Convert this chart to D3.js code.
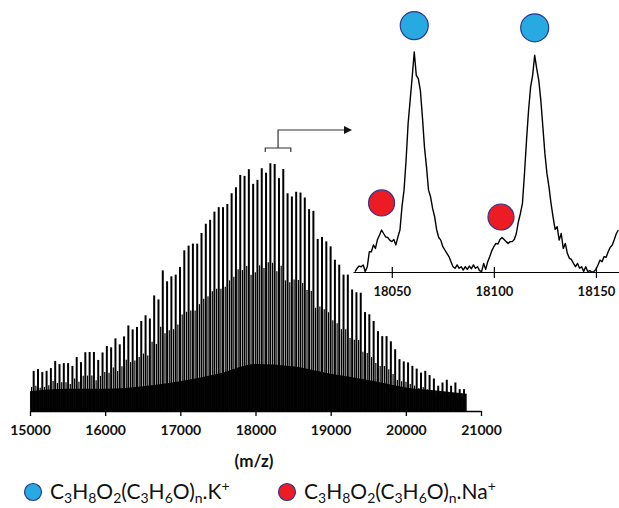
<!DOCTYPE html>
<html><head><meta charset="utf-8">
<script src="https://cdn.jsdelivr.net/npm/d3@7"></script>
<style>body{margin:0;background:#fff}svg{display:block}</style>
</head><body><svg id="c" width="619" height="508"></svg>
<script>
// ---- main spectrum: K+ series peak heights (relative %)
const peakStartMz = 15049;
const peakSpacing = 57.25;
const kPeakHeights = [
  16.2,16.9,15.7,16.2,17.3,20.2,18.9,19.3,19.3,18.2,
  21.8,19.7,23.7,23.8,23.8,20.6,23.6,26.2,25.7,29.3,
  26.9,30.1,34.5,32.9,33.9,36.3,38.6,37.3,46.6,45.0,
  56.7,52.3,54.3,55.0,58.1,64.8,66.7,67.5,67.5,71.8,
  75.5,77.1,80.4,82.2,82.2,83.5,87.8,90.2,95.2,94.8,
  97.5,91.6,93.2,97.9,96.1,99.9,99.6,93.9,97.6,87.8,
  86.5,88.4,88.1,86.1,81.4,80.7,69.4,70.2,68.4,66.4,
  61.0,59.0,55.0,55.0,49.0,47.9,47.7,39.9,39.0,36.3,
  32.2,30.2,30.2,28.1,24.9,20.9,20.0,19.6,18.2,17.1,
  15.5,16.2,14.5,13.1,10.2,11.5,12.6,10.2,11.5,8.8,8.8
];
// noise floor top of the spectrum (relative %)
const floorMz    = [15000,15500,16000,16500,17000,17500,18000,18500,19000,19500,20000,20500,20810];
const floorLevel = [8,9,9,10,12,15,19,18,15,12.5,9.5,8,7];
const mainTicks = [15000,16000,17000,18000,19000,20000,21000];

// ---- inset: zoomed trace, 1 Da steps from insetStartMz (relative %)
const insetStartMz = 18032;
const insetIntensity = [
  0.2,1.7,2.7,2.4,3.2,0.2,2.4,9.2,9.2,12.3,
  10.7,14.8,16.8,19.1,17.5,16.0,15.7,14.5,13.8,14.8,
  12.3,16.0,19.1,29.7,37.2,50.8,67.5,78.1,88.7,100,
  89.4,87.9,82.6,70.5,56.9,47.8,37.2,34.2,28.9,25.1,
  19.1,15.7,14.5,11.5,10.0,8.5,7.0,4.7,2.4,1.7,
  3.2,1.7,2.4,0.9,2.4,1.2,2.7,1.5,3.2,1.7,
  2.4,0.6,0.2,3.9,1.2,4.7,7.0,9.7,11.5,13.0,
  12.7,14.8,15.7,14.8,13.8,13.0,13.8,13.8,14.8,17.5,
  22.8,26.6,31.2,44.8,59.9,73.5,84.1,89.4,98.5,92.4,
  87.1,78.1,66.0,53.9,44.8,38.7,31.2,25.1,19.4,20.6,
  14.5,17.5,10.7,13.0,8.5,6.2,5.7,3.9,2.4,3.9,
  1.7,2.4,0.2,2.4,0.2,0.6,0,0.2,1.2,3.2,
  5.4,4.7,7.0,6.7,9.2,11.2,12.3,14.8,17.5,19.1
];
const insetDomain = [18031, 18161.3];
const insetTicks = [18050,18100,18150];
const markerMz     = [18061, 18120, 18045, 18103.5];
const markerLevel  = [112, 111, 31.4, 25];
const markerSeries = ["K","K","Na","Na"];
const bracketMz = [18130, 18470];

const legendItems = [
  {series:"K",  parts:[["C"],["3","sub"],["H"],["8","sub"],["O"],["2","sub"],["(C"],["3","sub"],["H"],["6","sub"],["O)"],["n","sub"],[".K"],["+","sup"]]},
  {series:"Na", parts:[["C"],["3","sub"],["H"],["8","sub"],["O"],["2","sub"],["(C"],["3","sub"],["H"],["6","sub"],["O)"],["n","sub"],[".Na"],["+","sup"]]}
];
const seriesFill = {K:"#27aae1", Na:"#ed1c24"};
const markerStroke = "#2b3990";

const svg = d3.select("#c");
const FONT = "Lato, 'Open Sans', sans-serif";

// ---------- main chart
const x = d3.scaleLinear().domain([15000,21000]).range([30,481]);
const y = d3.scaleLinear().domain([0,100]).range([411,163]);

const peaks = kPeakHeights.map((h,i)=>({mz: peakStartMz + i*peakSpacing, h}));

// noise floor band
svg.append("path")
  .datum(floorMz.map((m,i)=>[m,floorLevel[i]]))
  .attr("d", d3.area().x(d=>x(d[0])).y0(y(0)).y1(d=>y(d[1])).curve(d3.curveMonotoneX))
  .attr("fill","#0a0a0a");

// shoulder (secondary) lines
svg.append("g").selectAll("line").data(peaks).join("line")
  .attr("x1", d=>x(d.mz)-2.1).attr("x2", d=>x(d.mz)-2.1)
  .attr("y1", y(0)).attr("y2", d=>y(d.h*0.6))
  .attr("stroke","#000").attr("stroke-width",1.2);

// main peak lines
svg.append("g").selectAll("line").data(peaks).join("line")
  .attr("x1", d=>x(d.mz)).attr("x2", d=>x(d.mz))
  .attr("y1", y(0)).attr("y2", d=>y(d.h))
  .attr("stroke","#000").attr("stroke-width",2);

// x axis
const ax = svg.append("g").attr("transform",`translate(0,${y(0)})`)
  .call(d3.axisBottom(x).tickValues(mainTicks).tickFormat(d3.format("d")).tickSize(5).tickSizeOuter(0).tickPadding(9));
ax.select(".domain").attr("stroke","#000").attr("stroke-width",1.3);
ax.selectAll(".tick line").attr("stroke","#000").attr("stroke-width",1.3);
ax.selectAll("text").attr("font-family",FONT).attr("font-weight","bold").attr("font-size",14).attr("fill","#111");

svg.append("text").attr("x",254).attr("y",467).attr("text-anchor","middle")
  .attr("font-family",FONT).attr("font-weight","bold").attr("font-size",17).attr("fill","#111").text("(m/z)");

// bracket + arrow
const bx0 = x(bracketMz[0]), bx1 = x(bracketMz[1]), bxm = (bx0+bx1)/2;
const by = y(100) - 15;
svg.append("path")
  .attr("d",`M${bx0},${by+4}V${by}H${bx1}V${by+4}M${bxm},${by}V${by-18}H345`)
  .attr("fill","none").attr("stroke","#333").attr("stroke-width",1.2);
svg.append("path").attr("d",`M344,${by-22}L352,${by-18}L344,${by-14}Z`).attr("fill","#111");

// ---------- inset
const xi = d3.scaleLinear().domain(insetDomain).range([353,619]);
const yi = d3.scaleLinear().domain([0,100]).range([272,52]);

svg.append("path")
  .datum(insetIntensity.map((v,i)=>[insetStartMz+i, v]))
  .attr("d", d3.line().x(d=>xi(d[0])).y(d=>yi(d[1])))
  .attr("fill","none").attr("stroke","#000").attr("stroke-width",1.4).attr("stroke-linejoin","round");

const ai = svg.append("g").attr("transform",`translate(0,272)`)
  .call(d3.axisBottom(xi).tickValues(insetTicks).tickFormat(d3.format("d")).tickSize(6).tickSizeOuter(0).tickPadding(9));
ai.select(".domain").attr("stroke","#000").attr("stroke-width",1.2);
ai.selectAll(".tick line").attr("stroke","#000").attr("stroke-width",1.2).attr("y1",-5);
ai.selectAll("text").attr("font-family",FONT).attr("font-weight","bold").attr("font-size",13).attr("fill","#111");

svg.append("g").selectAll("circle").data(markerMz.map((m,i)=>({m, l:markerLevel[i], s:markerSeries[i]}))).join("circle")
  .attr("cx", d=>xi(d.m)).attr("cy", d=>yi(d.l))
  .attr("r", d=>d.s==="K"?14:13)
  .attr("fill", d=>seriesFill[d.s]).attr("stroke",markerStroke).attr("stroke-width",1.2);

// ---------- legend
const legendX = [33, 287];
legendItems.forEach((it,k)=>{
  svg.append("circle").attr("cx",legendX[k]).attr("cy",492).attr("r",8.5)
    .attr("fill",seriesFill[it.series]).attr("stroke",markerStroke).attr("stroke-width",1.2);
  const t = svg.append("text").attr("x",legendX[k]+17).attr("y",499)
    .attr("font-family",FONT).attr("font-size",21).attr("fill","#111");
  let shift = 0;
  it.parts.forEach(([s,kind])=>{
    const target = kind==="sub"?4:kind==="sup"?-8:0;
    const ts = t.append("tspan").attr("dy", target-shift).text(s);
    if(kind) ts.attr("font-size",14);
    shift = target;
  });
});
</script></body></html>
